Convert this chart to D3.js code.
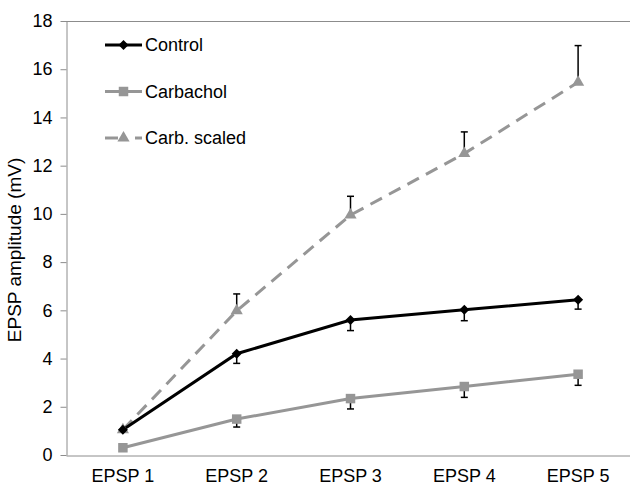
<!DOCTYPE html>
<html>
<head>
<meta charset="utf-8">
<script src="https://cdn.jsdelivr.net/npm/d3@7"></script>
<style>
  html, body { margin: 0; padding: 0; background: #fff; }
  svg { display: block; font-family: "Liberation Sans", Arial, sans-serif; }
</style>
</head>
<body>
<svg id="chart" width="630" height="485"></svg>
<script>
const categories = ["EPSP 1", "EPSP 2", "EPSP 3", "EPSP 4", "EPSP 5"];
const controlValues = [1.05, 4.2, 5.6, 6.02, 6.44];
const controlErrMinus = [0.0, 0.4, 0.44, 0.45, 0.39];
const carbacholValues = [0.3, 1.49, 2.34, 2.84, 3.35];
const carbacholErrMinus = [0.0, 0.33, 0.43, 0.45, 0.46];
const scaledValues = [1.05, 5.98, 9.95, 12.5, 15.46];
const scaledErrPlus = [0.0, 0.7, 0.78, 0.9, 1.52];
const yTicks = [0, 2, 4, 6, 8, 10, 12, 14, 16, 18];
const seriesNames = ["Control", "Carbachol", "Carb. scaled"];

(function () {
const svg = d3.select("#chart");
const mLeft = 66, mRight = 635, mTop = 21, mBottom = 455;
const gray = "#969696";
const axisGray = "#8c8c8c";

const x = d3.scaleBand().domain(categories).range([mLeft, mRight]);
const y = d3.scaleLinear().domain([0, 18]).range([mBottom, mTop]);
const cx = c => x(c) + x.bandwidth() / 2;

// top border
svg.append("line").attr("x1", mLeft).attr("x2", 630).attr("y1", mTop + 0.5).attr("y2", mTop + 0.5)
  .attr("stroke", axisGray).attr("stroke-width", 1);

// y axis
const yAxis = d3.axisLeft(y).tickValues(yTicks).tickSize(6).tickPadding(8).tickSizeOuter(0);
const gy = svg.append("g").attr("transform", `translate(${mLeft + 0.5},0)`).call(yAxis);
gy.select(".domain").attr("stroke", axisGray);
gy.selectAll(".tick line").attr("stroke", axisGray);
gy.selectAll(".tick text").attr("font-size", 18).attr("fill", "#000")
  .attr("font-family", "'Liberation Sans', Arial, sans-serif");

// x axis
const xAxis = d3.axisBottom(x).tickSize(0).tickPadding(14).tickSizeOuter(0);
const gx = svg.append("g").attr("transform", `translate(0,${mBottom + 0.5})`).call(xAxis);
gx.select(".domain").attr("stroke", axisGray);
gx.selectAll(".tick text").attr("font-size", 18).attr("fill", "#000")
  .attr("font-family", "'Liberation Sans', Arial, sans-serif");

// y axis title
svg.append("text")
  .attr("transform", `translate(21,250) rotate(-90)`)
  .attr("text-anchor", "middle")
  .attr("font-size", 19)
  .attr("fill", "#000")
  .text("EPSP amplitude (mV)");

const line = d3.line().x((d, i) => cx(categories[i])).y(d => y(d));

function errBars(values, errs, dir) {
  const g = svg.append("g");
  values.forEach((v, i) => {
    if (!errs[i]) return;
    const end = v + dir * errs[i];
    const xx = cx(categories[i]);
    g.append("line").attr("x1", xx).attr("x2", xx).attr("y1", y(v)).attr("y2", y(end))
      .attr("stroke", "#000").attr("stroke-width", 1.5);
    g.append("line").attr("x1", xx - 3.5).attr("x2", xx + 3.5).attr("y1", y(end)).attr("y2", y(end))
      .attr("stroke", "#000").attr("stroke-width", 1.5);
  });
}

svg.append("path").datum(scaledValues).attr("d", line)
  .attr("fill", "none").attr("stroke", gray).attr("stroke-width", 3)
  .attr("stroke-dasharray", "13,8");
errBars(scaledValues, scaledErrPlus, 1);

svg.append("path").datum(carbacholValues).attr("d", line)
  .attr("fill", "none").attr("stroke", gray).attr("stroke-width", 3);
errBars(carbacholValues, carbacholErrMinus, -1);

svg.append("path").datum(controlValues).attr("d", line)
  .attr("fill", "none").attr("stroke", "#000").attr("stroke-width", 3);
errBars(controlValues, controlErrMinus, -1);

const diamond = d3.symbol().type(d3.symbolDiamond2).size(64);
const square = d3.symbol().type(d3.symbolSquare).size(90);
const triangle = d3.symbol().type(d3.symbolTriangle).size(64);

svg.append("g").selectAll("path").data(scaledValues).join("path")
  .attr("d", triangle).attr("fill", gray)
  .attr("transform", (d, i) => `translate(${cx(categories[i])},${y(d)})`);
svg.append("g").selectAll("path").data(carbacholValues).join("path")
  .attr("d", square).attr("fill", gray)
  .attr("transform", (d, i) => `translate(${cx(categories[i])},${y(d)})`);
svg.append("g").selectAll("path").data(controlValues).join("path")
  .attr("d", diamond).attr("fill", "#000")
  .attr("transform", (d, i) => `translate(${cx(categories[i])},${y(d)})`);

const legY = [45, 91.5, 138];
const legColors = ["#000", gray, gray];
const legSymbols = [diamond, square, triangle];
const lg = svg.append("g");
seriesNames.forEach((name, i) => {
  const yy = legY[i];
  if (i < 2) {
    lg.append("line").attr("x1", 105).attr("x2", 142).attr("y1", yy).attr("y2", yy)
      .attr("stroke", legColors[i]).attr("stroke-width", 3);
  } else {
    lg.append("line").attr("x1", 105).attr("x2", 118).attr("y1", yy).attr("y2", yy)
      .attr("stroke", gray).attr("stroke-width", 3);
    lg.append("line").attr("x1", 135).attr("x2", 142).attr("y1", yy).attr("y2", yy)
      .attr("stroke", gray).attr("stroke-width", 3);
  }
  lg.append("path").attr("d", legSymbols[i]).attr("fill", legColors[i])
    .attr("transform", `translate(123.5,${yy})`);
  lg.append("text").attr("x", 145).attr("y", yy).attr("dy", "0.35em")
    .attr("font-size", 18).attr("fill", "#000").text(name);
});
})();
</script>
</body>
</html>
